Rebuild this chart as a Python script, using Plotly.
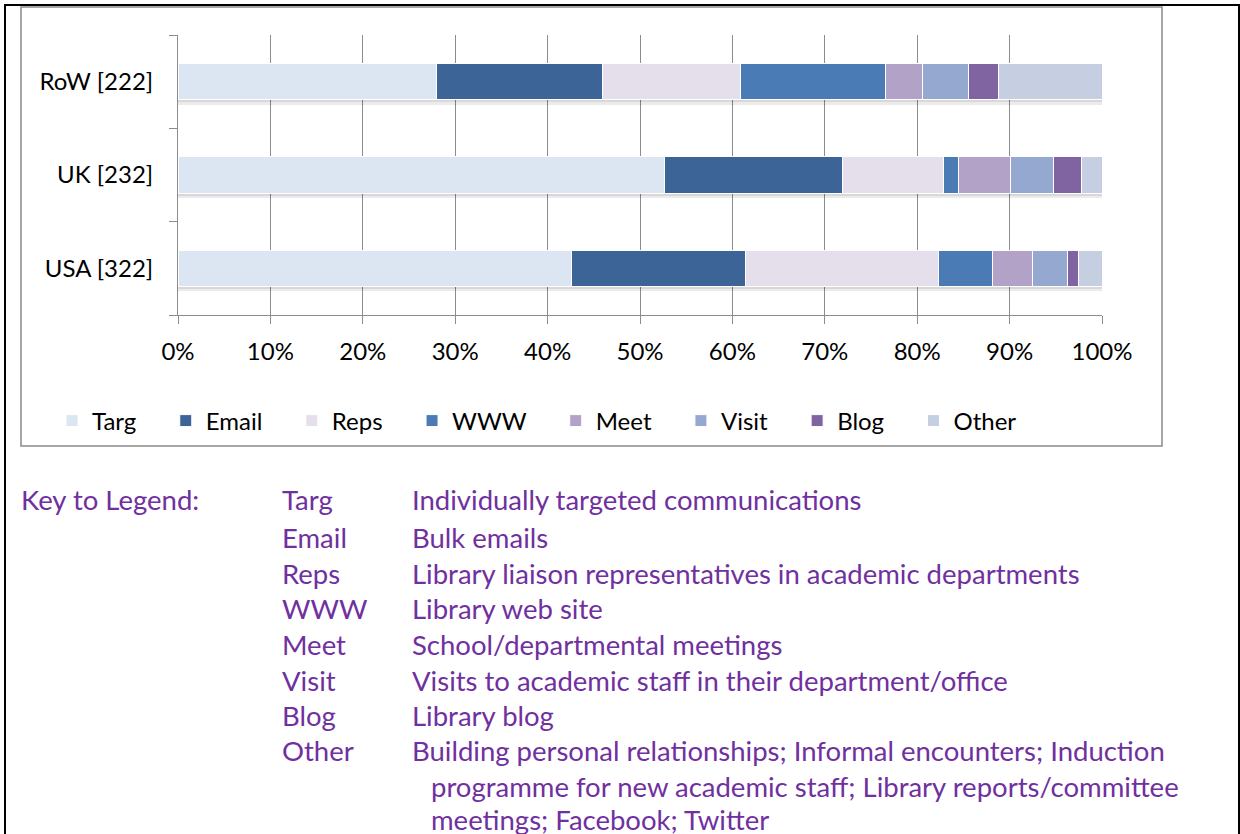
import plotly.graph_objects as go

# ---------------- data ----------------
categories = ["USA [322]", "UK [232]", "RoW [222]"]
series_names = ["Targ", "Email", "Reps", "WWW", "Meet", "Visit", "Blog", "Other"]
targ = [42.6, 52.6, 28.0]
email = [18.8, 19.3, 17.9]
reps = [20.9, 10.9, 15.0]
www = [5.8, 1.7, 15.7]
meet = [4.4, 5.6, 4.0]
visit = [3.8, 4.7, 5.0]
blog = [1.2, 3.0, 3.2]
other = [2.5, 2.2, 11.2]
series_values = [targ, email, reps, www, meet, visit, blog, other]
series_colors = ["#DCE6F2", "#3C6496", "#E5DFEC", "#4A7BB4",
                 "#B3A2C7", "#95A9D0", "#8064A2", "#C6CFE2"]
x_tick_vals = [0, 10, 20, 30, 40, 50, 60, 70, 80, 90, 100]
x_tick_labels = ["0%", "10%", "20%", "30%", "40%", "50%", "60%", "70%",
                 "80%", "90%", "100%"]

key_codes = ["Targ", "Email", "Reps", "WWW", "Meet", "Visit", "Blog", "Other"]
key_desc = [
    "Individually targeted communications",
    "Bulk emails",
    "Library liaison representatives in academic departments",
    "Library web site",
    "School/departmental meetings",
    "Visits to academic staff in their department/office",
    "Library blog",
    "Building personal relationships; Informal encounters; Induction",
]
key_cont = [
    "programme for new academic staff; Library reports/committee",
    "meetings; Facebook; Twitter",
]

# ---------------- geometry helpers (pixel -> paper) ----------------
W, H = 1240, 834
PL, PR, PT, PB = 178, 1102, 35, 315


def px(x):
    return (x - PL) / (PR - PL)


def py(y):
    return (PB - y) / (PB - PT)


FONT = "Lato, Carlito, Calibri, sans-serif"
PURPLE = "#7030A0"
GRID = "#8c8c8c"
BW = 0.39
CF = 24     # chart font size
KS = 27.5   # key font size

fig = go.Figure()

# soft drop shadow below bars
totals = [sum(v[i] for v in series_values) for i in range(len(categories))]
for off in (0.05, 0.025):
    fig.add_trace(go.Bar(
        y=categories, x=totals, base=[0] * len(categories), orientation="h",
        width=BW, offset=-BW / 2 - off,
        marker=dict(color="rgba(0,0,0,0.08)", line=dict(width=0)),
        showlegend=False, hoverinfo="skip",
    ))

pad = "\u00a0" * 3 + "\u2009\u2009"
for name, vals, col in zip(series_names, series_values, series_colors):
    fig.add_trace(go.Bar(
        y=categories, x=vals, orientation="h", name=name + pad,
        marker=dict(color=col, line=dict(color="white", width=1)),
        width=BW,
    ))

fig.update_layout(
    width=W, height=H,
    barmode="stack",
    margin=dict(l=PL, r=W - PR, t=PT, b=H - PB, autoexpand=False),
    paper_bgcolor="white", plot_bgcolor="white",
    font=dict(family=FONT, size=CF, color="black"),
    legend=dict(
        orientation="h", traceorder="normal",
        x=px(52), xanchor="left", y=py(421), yanchor="middle",
        font=dict(family=FONT, size=CF, color="black"),
        bgcolor="rgba(0,0,0,0)",
    ),
    xaxis=dict(
        range=[0, 100], tickmode="array", tickvals=x_tick_vals,
        ticktext=x_tick_labels,
        showgrid=True, gridcolor=GRID, gridwidth=1,
        zeroline=False, showline=True, linecolor=GRID, linewidth=1,
        ticks="outside", ticklen=8, tickcolor=GRID, tickwidth=1,
        tickfont=dict(family=FONT, size=CF, color="black"),
        ticklabelstandoff=7, fixedrange=True,
    ),
    yaxis=dict(
        categoryorder="array", categoryarray=categories,
        showgrid=False, zeroline=False,
        showline=True, linecolor=GRID, linewidth=1,
        ticks="outside", tickson="boundaries", ticklen=8,
        tickcolor=GRID, tickwidth=1,
        tickfont=dict(family=FONT, size=CF, color="black"),
        ticklabelstandoff=19, fixedrange=True,
    ),
    showlegend=True,
)

# frames: outer page/table border and chart border
shapes = [
    dict(type="line", xref="paper", yref="paper",
         x0=px(5), x1=px(5), y0=py(5), y1=py(900),
         line=dict(color="black", width=2)),
    dict(type="line", xref="paper", yref="paper",
         x0=px(1239), x1=px(1239), y0=py(5), y1=py(900),
         line=dict(color="black", width=2)),
    dict(type="line", xref="paper", yref="paper",
         x0=px(4), x1=px(1240), y0=py(5), y1=py(5),
         line=dict(color="black", width=2)),
    dict(type="rect", xref="paper", yref="paper",
         x0=px(21), x1=px(1162), y0=py(7), y1=py(446),
         line=dict(color="#8a8a8a", width=1.5), fillcolor="rgba(0,0,0,0)",
         layer="below"),
]
fig.update_layout(shapes=shapes)

# Key to legend text
annotations = []
KF = dict(family=FONT, size=KS, color=PURPLE)
line_y = [500, 537, 573, 608, 644, 680, 715, 750]


def note(text, x, y):
    return dict(text=text, x=px(x), y=py(y), xref="paper", yref="paper",
                xanchor="left", yanchor="middle", showarrow=False, font=KF,
                borderpad=0)


annotations.append(note("Key to Legend:", 20, 500))
for code, desc, yy in zip(key_codes, key_desc, line_y):
    annotations.append(note(code, 281, yy))
    annotations.append(note(desc, 411, yy))
for txt, yy in zip(key_cont, [786, 819]):
    annotations.append(note(txt, 430, yy))
fig.update_layout(annotations=annotations)

fig.write_html("out.html", config={"displayModeBar": False},
               post_script="document.body.style.margin='0';document.body.style.overflow='hidden';")
